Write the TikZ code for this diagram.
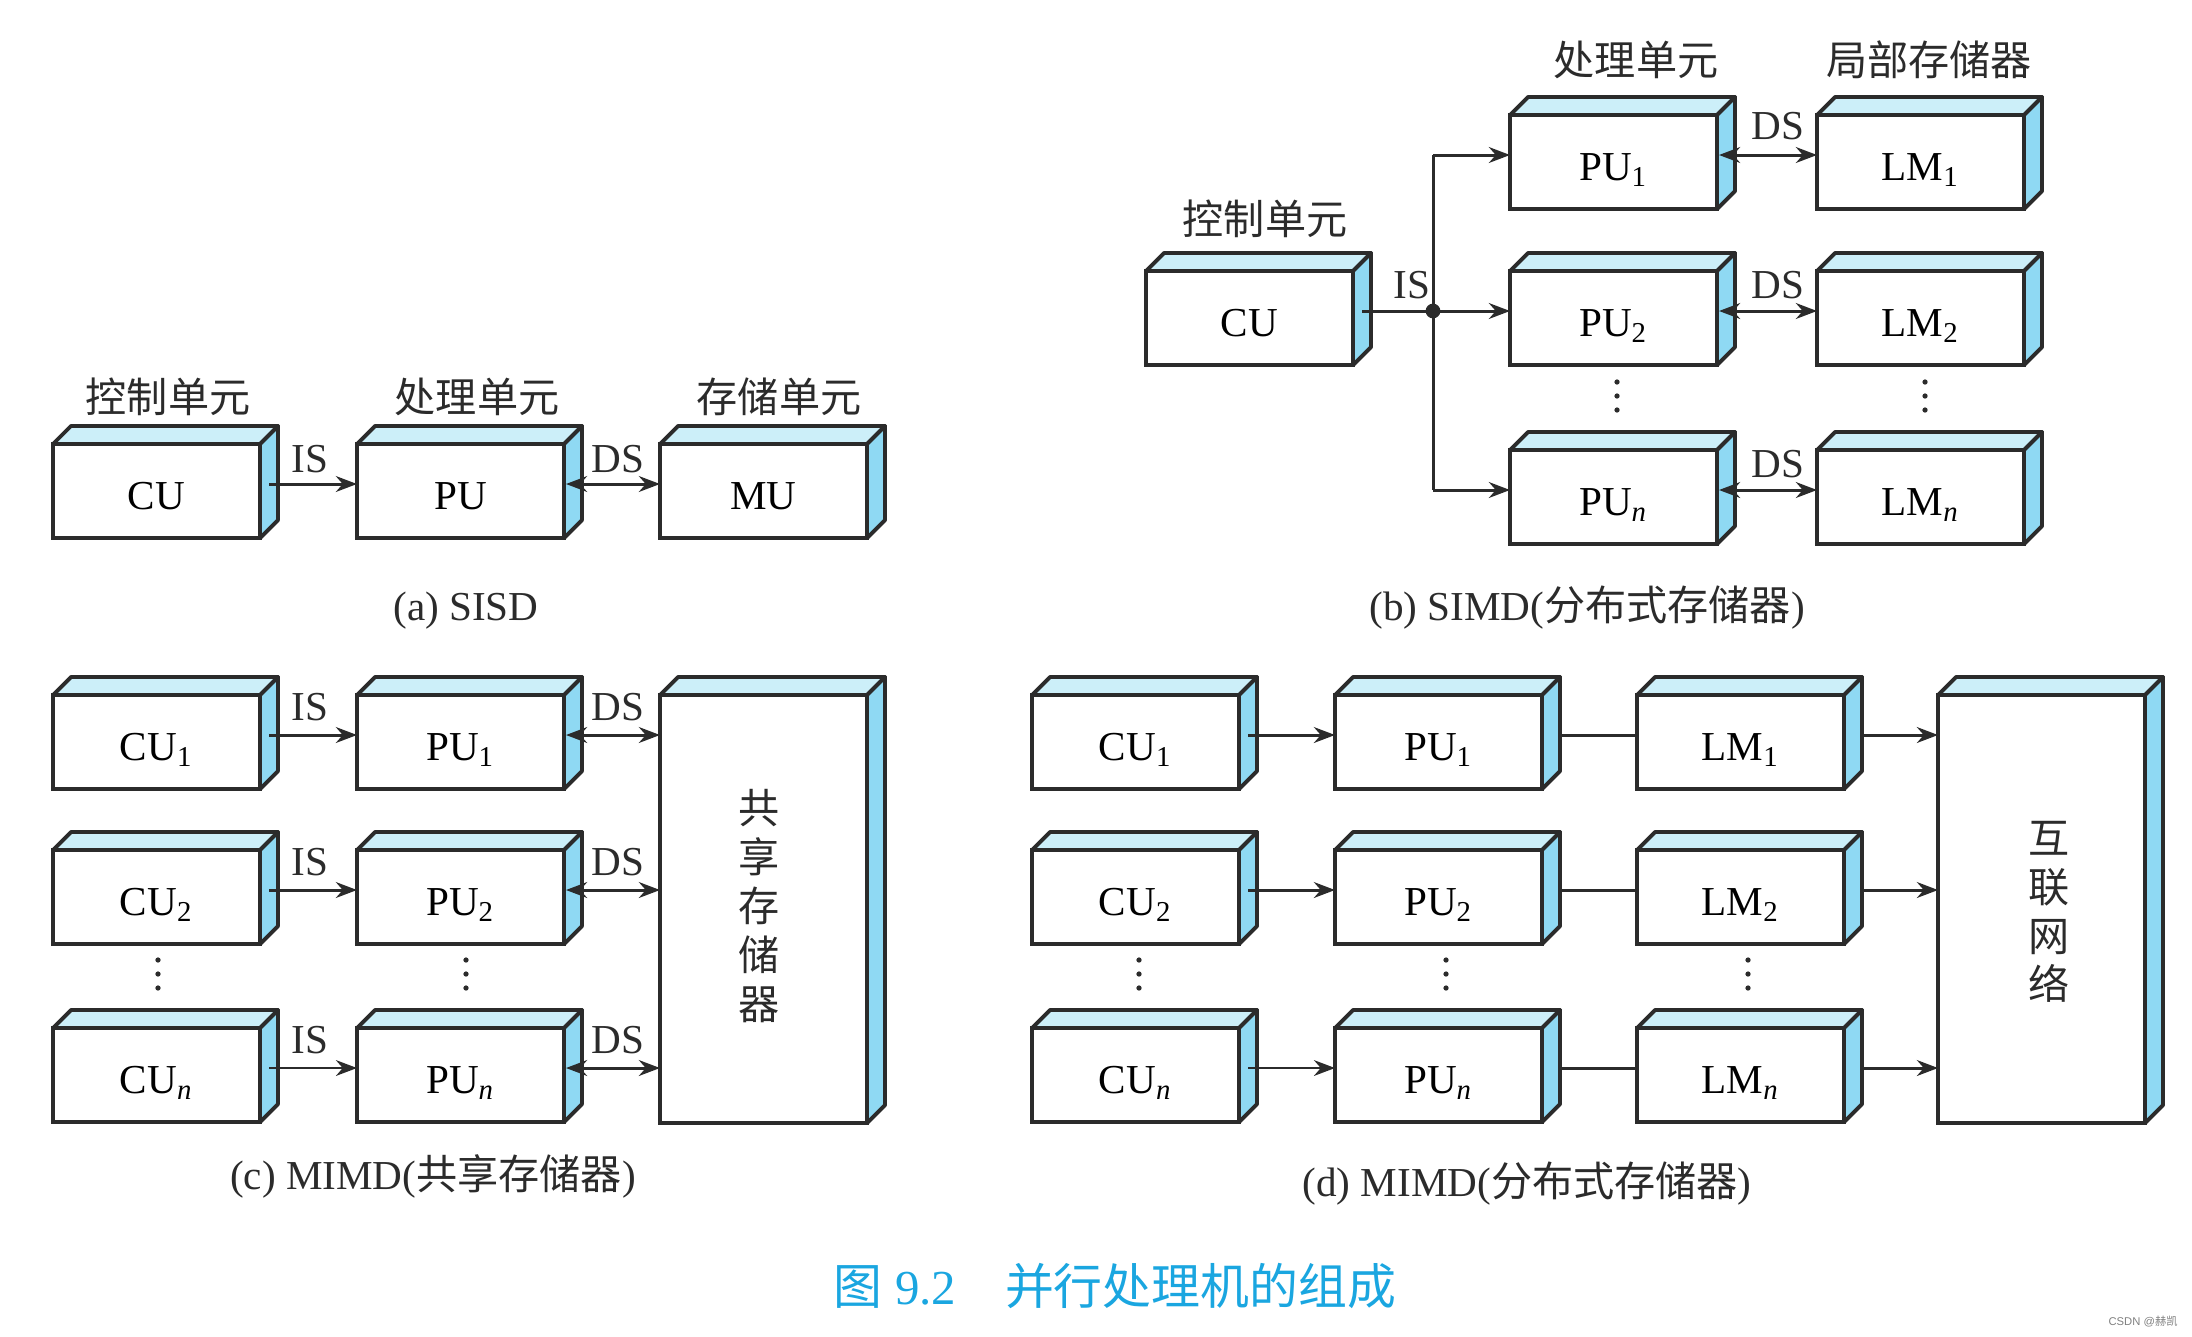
\documentclass[tikz,border=0pt]{standalone}
\usepackage{fontspec}
\setmainfont{Liberation Serif}
\newfontfamily\cjk{Noto Sans CJK SC}
\newfontfamily\wmfont{Liberation Sans}
\usetikzlibrary{arrows.meta}
\definecolor{topc}{HTML}{CCEFF9}
\definecolor{sidec}{HTML}{8FD9F3}
\definecolor{edgec}{HTML}{2B2B2B}
\definecolor{capc}{HTML}{1AA6E0}
\definecolor{wmc}{HTML}{808080}
\newcommand\zh[1]{{\cjk #1}}
\newcommand\mkcube[6]{%
 \node[cubefront, minimum width={#4*0.01cm}, minimum height={#5*0.01cm}] (#1) at (#2,#3) {#6};
 \filldraw[topface] (#1.north west) -- ++(18,-18) -- ([shift={(18,-18)}]#1.north east) -- (#1.north east) -- cycle;
 \filldraw[sideface] (#1.north east) -- ++(18,-18) -- ([shift={(18,-18)}]#1.south east) -- (#1.south east) -- cycle;
}
\newcommand\vdt[2]{\fill[edgec] (#1,#2-14) circle (0.75pt) (#1,#2) circle (0.75pt) (#1,#2+14) circle (0.75pt);}
\tikzset{
 cubefront/.style={draw=edgec, line width=1.1pt, fill=white, anchor=north west, inner sep=0pt, outer sep=0pt, text height=10.5pt, text depth=0pt, font=\fontsize{11.7}{14}\selectfont},
 topface/.style={fill=topc, draw=edgec, line width=1.1pt, line join=round},
 sideface/.style={fill=sidec, draw=edgec, line width=1.1pt, line join=round},
 arr/.style={-{Stealth[length=6pt,width=4.5pt]}, line width=0.85pt, draw=edgec},
 darr/.style={{Stealth[length=6pt,width=4.5pt]}-{Stealth[length=6pt,width=4.5pt]}, line width=0.85pt, draw=edgec},
 plain/.style={line width=0.85pt, draw=edgec},
 lbl/.style={font=\fontsize{11.7}{14}\selectfont, inner sep=0pt, text=edgec},
 zhl/.style={font=\fontsize{11.7}{14}\selectfont\cjk, inner sep=0pt, text=edgec},
 vlbl/.style={font=\fontsize{11.7}{13.9}\selectfont\cjk, align=center, inner sep=0pt, text=edgec},
}
\begin{document}
\begin{tikzpicture}[x=0.01cm, y=-0.01cm]
\useasboundingbox (0,0) rectangle (2192,1336);
% ---------- (a) SISD ----------
\mkcube{cua}{53}{444}{207}{94}{CU}
\mkcube{pua}{357}{444}{207}{94}{PU}
\mkcube{mua}{660}{444}{207}{94}{MU}
\node[zhl] (la1) at (168,397) {控制单元};
\node[zhl] (la2) at (477,397) {处理单元};
\node[zhl] (la3) at (779,397) {存储单元};
\draw[arr] ([shift={(9,-7)}]cua.east) -- ([shift={(0,-7)}]pua.west);
\draw[darr] ([shift={(2,-7)}]pua.east) -- ([shift={(0,-7)}]mua.west);
\node[lbl] (isa) at (310,459) {IS};
\node[lbl] (dsa) at (618,459) {DS};
\node[lbl] (capa) at (466,611) {(a) SISD};
% ---------- (b) SIMD ----------
\mkcube{cub}{1146}{271}{207}{94}{CU}
\mkcube{pub1}{1510}{115}{207}{94}{PU\textsubscript{1}}
\mkcube{pub2}{1510}{271}{207}{94}{PU\textsubscript{2}}
\mkcube{pubn}{1510}{450}{207}{94}{PU\textsubscript{\itshape n}}
\mkcube{lmb1}{1817}{115}{207}{94}{LM\textsubscript{1}}
\mkcube{lmb2}{1817}{271}{207}{94}{LM\textsubscript{2}}
\mkcube{lmbn}{1817}{450}{207}{94}{LM\textsubscript{\itshape n}}
\node[zhl] (lb1) at (1265,219) {控制单元};
\node[zhl] (lb2) at (1636,60) {处理单元};
\node[zhl] (lb3) at (1929,60) {局部存储器};
\coordinate (jb) at (1433,311);
\coordinate (jt) at (1433,155);
\coordinate (jn) at (1433,490);
\draw[plain] ([shift={(9,-7)}]cub.east) -- (jb);
\draw[plain] (jt) -- (jn);
\fill[edgec] (jb) circle (2.1pt);
\draw[arr] (jt) -- ([shift={(0,-7)}]pub1.west);
\draw[arr] (jb) -- ([shift={(0,-7)}]pub2.west);
\draw[arr] (jn) -- ([shift={(0,-7)}]pubn.west);
\draw[darr] ([shift={(2,-7)}]pub1.east) -- ([shift={(0,-7)}]lmb1.west);
\draw[darr] ([shift={(2,-7)}]pub2.east) -- ([shift={(0,-7)}]lmb2.west);
\draw[darr] ([shift={(2,-7)}]pubn.east) -- ([shift={(0,-7)}]lmbn.west);
\node[lbl] (isb) at (1412,285) {IS};
\node[lbl] (dsb1) at (1778,126) {DS};
\node[lbl] (dsb2) at (1778,285) {DS};
\node[lbl] (dsb3) at (1778,464) {DS};
\vdt{1617}{396}
\vdt{1925}{396}
\node[lbl] (capb) at (1587,608) {(b) SIMD(\zh{分布式存储器})};
% ---------- (c) MIMD shared ----------
\mkcube{cuc1}{53}{695}{207}{94}{CU\textsubscript{1}}
\mkcube{cuc2}{53}{850}{207}{94}{CU\textsubscript{2}}
\mkcube{cucn}{53}{1028}{207}{94}{CU\textsubscript{\itshape n}}
\mkcube{puc1}{357}{695}{207}{94}{PU\textsubscript{1}}
\mkcube{puc2}{357}{850}{207}{94}{PU\textsubscript{2}}
\mkcube{pucn}{357}{1028}{207}{94}{PU\textsubscript{\itshape n}}
\mkcube{smc}{660}{695}{207}{428}{}
\node[vlbl] (smt) at (759,906) {共\\享\\存\\储\\器};
\draw[arr] ([shift={(9,-7)}]cuc1.east) -- ([shift={(0,-7)}]puc1.west);
\draw[arr] ([shift={(9,-7)}]cuc2.east) -- ([shift={(0,-7)}]puc2.west);
\draw[arr, line width=0.6pt] ([shift={(9,-7)}]cucn.east) -- ([shift={(0,-7)}]pucn.west);
\draw[darr] ([shift={(2,-7)}]puc1.east) -- (smc.west |- 0,735);
\draw[darr] ([shift={(2,-7)}]puc2.east) -- (smc.west |- 0,890);
\draw[darr] ([shift={(2,-7)}]pucn.east) -- (smc.west |- 0,1068);
\node[lbl] (isc1) at (310,707) {IS};
\node[lbl] (isc2) at (310,862) {IS};
\node[lbl] (isc3) at (310,1040) {IS};
\node[lbl] (dsc1) at (618,707) {DS};
\node[lbl] (dsc2) at (618,862) {DS};
\node[lbl] (dsc3) at (618,1040) {DS};
\vdt{158}{974}
\vdt{466}{974}
\node[lbl] (capc) at (433,1176) {(c) MIMD(\zh{共享存储器})};
% ---------- (d) MIMD distributed ----------
\mkcube{cud1}{1032}{695}{207}{94}{CU\textsubscript{1}}
\mkcube{cud2}{1032}{850}{207}{94}{CU\textsubscript{2}}
\mkcube{cudn}{1032}{1028}{207}{94}{CU\textsubscript{\itshape n}}
\mkcube{pud1}{1335}{695}{207}{94}{PU\textsubscript{1}}
\mkcube{pud2}{1335}{850}{207}{94}{PU\textsubscript{2}}
\mkcube{pudn}{1335}{1028}{207}{94}{PU\textsubscript{\itshape n}}
\mkcube{lmd1}{1637}{695}{207}{94}{LM\textsubscript{1}}
\mkcube{lmd2}{1637}{850}{207}{94}{LM\textsubscript{2}}
\mkcube{lmdn}{1637}{1028}{207}{94}{LM\textsubscript{\itshape n}}
\mkcube{netd}{1938}{695}{207}{428}{}
\node[vlbl] (nett) at (2049,912) {互\\联\\网\\络};
\draw[arr] ([shift={(9,-7)}]cud1.east) -- ([shift={(0,-7)}]pud1.west);
\draw[arr] ([shift={(9,-7)}]cud2.east) -- ([shift={(0,-7)}]pud2.west);
\draw[arr, line width=0.6pt] ([shift={(9,-7)}]cudn.east) -- ([shift={(0,-7)}]pudn.west);
\draw[plain] ([shift={(18,-7)}]pud1.east) -- ([shift={(0,-7)}]lmd1.west);
\draw[plain] ([shift={(18,-7)}]pud2.east) -- ([shift={(0,-7)}]lmd2.west);
\draw[plain] ([shift={(18,-7)}]pudn.east) -- ([shift={(0,-7)}]lmdn.west);
\draw[arr] ([shift={(18,-7)}]lmd1.east) -- (netd.west |- 0,735);
\draw[arr] ([shift={(18,-7)}]lmd2.east) -- (netd.west |- 0,890);
\draw[arr] ([shift={(18,-7)}]lmdn.east) -- (netd.west |- 0,1068);
\vdt{1139}{974}
\vdt{1446}{974}
\vdt{1748}{974}
\node[lbl] (capd) at (1527,1184) {(d) MIMD(\zh{分布式存储器})};
% ---------- figure caption ----------
\node[font=\fontsize{13.9}{17}\selectfont, text=capc, inner sep=0pt] (figcap) at (1115,1286) {\zh{图} 9.2\quad\zh{并行处理机的组成}};
\node[font=\fontsize{3.2}{4}\selectfont\wmfont, text=wmc, inner sep=0pt] (wm) at (2143,1322) {CSDN @\zh{赫凯}};
\end{tikzpicture}
\end{document}
